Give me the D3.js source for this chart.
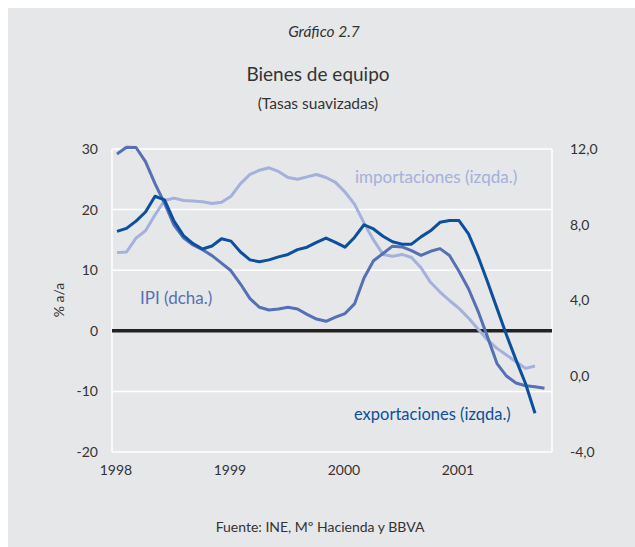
<!DOCTYPE html>
<html>
<head>
<meta charset="utf-8">
<script src="https://cdn.jsdelivr.net/npm/d3@7"></script>
<style>
  body { margin: 0; background: #fff; }
  text { font-family: Lato, "Open Sans", sans-serif; fill: #333; }
</style>
</head>
<body>
<div id="chart"></div>
<script>
// monthly, Jan 1998 onwards
var startYear = 1998;
var yearLabels = ["1998", "1999", "2000", "2001"];
var leftTicks = [30, 20, 10, 0, -10, -20];
var rightTicks = [12, 8, 4, 0, -4];

// exportaciones (izqda.)
var exportaciones = [16.4, 16.9, 18.1, 19.6, 22.2, 21.6, 18.1, 15.7, 14.4, 13.5,
  14.0, 15.2, 14.8, 13.0, 11.7, 11.4, 11.7, 12.2, 12.6, 13.4,
  13.8, 14.6, 15.3, 14.6, 13.8, 15.4, 17.5, 16.8, 15.6, 14.7,
  14.3, 14.3, 15.5, 16.5, 17.9, 18.2, 18.2, 16.0, 12.3, 8.1,
  3.7, -0.7, -4.8, -8.7, -13.6];

// importaciones (izqda.)
var importaciones = [12.9, 13.0, 15.3, 16.5, 19.1, 21.5, 21.9, 21.5, 21.4, 21.3,
  21.0, 21.2, 22.2, 24.3, 25.8, 26.5, 26.9, 26.3, 25.3, 25.0,
  25.4, 25.8, 25.3, 24.5, 22.9, 20.9, 17.8, 15.0, 12.6, 12.3,
  12.6, 12.1, 10.4, 8.0, 6.4, 5.0, 3.7, 2.1, 0.3, -1.5,
  -2.9, -4.0, -5.1, -6.2, -5.8];

// IPI (dcha.)
var ipi = [11.74, 12.09, 12.08, 11.33, 10.17, 9.14, 7.98, 7.31, 6.93, 6.68,
  6.37, 5.97, 5.57, 4.87, 4.10, 3.64, 3.50, 3.55, 3.64, 3.55,
  3.27, 3.02, 2.90, 3.12, 3.31, 3.82, 5.19, 6.10, 6.48, 6.87,
  6.83, 6.63, 6.38, 6.60, 6.74, 6.38, 5.54, 4.62, 3.44, 2.08,
  0.67, 0.01, -0.36, -0.50, -0.55, -0.63];

var svgWidth = 635;
var svgHeight = 547;

var plot = { left: 112, right: 552, top: 149, bottom: 452 };

var svg = d3.select("#chart")
  .append("svg")
  .attr("width", svgWidth)
  .attr("height", svgHeight);

// grey card
svg.append("rect")
  .attr("x", 8).attr("y", 8)
  .attr("width", svgWidth - 8).attr("height", svgHeight - 8)
  .attr("fill", "#e6e7e9");

// scales
var x = d3.scaleLinear()
  .domain([0, 45])
  .range([117, 117 + 45 * 9.5]);

var yLeft = d3.scaleLinear()
  .domain([-20, 30])
  .range([plot.bottom, plot.top]);

var yRight = d3.scaleLinear()
  .domain([-4, 12])
  .range([plot.bottom, plot.top]);

// gridlines
svg.append("g")
  .selectAll("line")
  .data(leftTicks.filter(d => d !== 0))
  .enter()
  .append("line")
  .attr("x1", plot.left).attr("x2", plot.right)
  .attr("y1", d => yLeft(d)).attr("y2", d => yLeft(d))
  .attr("stroke", "#fff")
  .attr("stroke-width", 1.5);

// frame sides
svg.append("line")
  .attr("x1", plot.left).attr("x2", plot.left)
  .attr("y1", plot.top).attr("y2", plot.bottom)
  .attr("stroke", "#fff").attr("stroke-width", 1.5);
svg.append("line")
  .attr("x1", plot.right).attr("x2", plot.right)
  .attr("y1", plot.top).attr("y2", plot.bottom)
  .attr("stroke", "#fff").attr("stroke-width", 1.5);

// zero line
svg.append("line")
  .attr("x1", plot.left).attr("x2", plot.right)
  .attr("y1", yLeft(0)).attr("y2", yLeft(0))
  .attr("stroke", "#222")
  .attr("stroke-width", 3.5);

// series
var lineLeft = d3.line()
  .x((d, i) => x(i))
  .y(d => yLeft(d));

var lineRight = d3.line()
  .x((d, i) => x(i))
  .y(d => yRight(d));

svg.append("path")
  .datum(importaciones)
  .attr("d", lineLeft)
  .attr("fill", "none")
  .attr("stroke", "#a3b1db")
  .attr("stroke-width", 3)
  .attr("stroke-linejoin", "round");

svg.append("path")
  .datum(ipi)
  .attr("d", lineRight)
  .attr("fill", "none")
  .attr("stroke", "#5670b6")
  .attr("stroke-width", 3)
  .attr("stroke-linejoin", "round");

svg.append("path")
  .datum(exportaciones)
  .attr("d", lineLeft)
  .attr("fill", "none")
  .attr("stroke", "#0b4f9d")
  .attr("stroke-width", 3)
  .attr("stroke-linejoin", "round");

// left axis labels
svg.append("g")
  .selectAll("text")
  .data(leftTicks)
  .enter()
  .append("text")
  .attr("x", 98)
  .attr("y", d => yLeft(d))
  .attr("dy", "0.35em")
  .attr("text-anchor", "end")
  .attr("font-size", 14)
  .text(d => d === 0 ? "0" : (d < 0 ? "-" + Math.abs(d) : d));

// right axis labels
svg.append("g")
  .selectAll("text")
  .data(rightTicks)
  .enter()
  .append("text")
  .attr("x", 570)
  .attr("y", d => yRight(d))
  .attr("dy", "0.35em")
  .attr("font-size", 14)
  .text(d => (d < 0 ? "-" : "") + Math.abs(d).toFixed(1).replace(".", ","));

// year labels
svg.append("g")
  .selectAll("text")
  .data(yearLabels)
  .enter()
  .append("text")
  .attr("x", (d, i) => x(i * 12) - 1)
  .attr("y", 475)
  .attr("text-anchor", "middle")
  .attr("font-size", 14)
  .text(d => d);

// y title
svg.append("text")
  .attr("transform", "translate(64, 300) rotate(-90)")
  .attr("text-anchor", "middle")
  .attr("font-size", 14)
  .text("% a/a");

// titles
svg.append("text")
  .attr("x", 324).attr("y", 37)
  .attr("text-anchor", "middle")
  .attr("font-size", 15.5)
  .attr("font-style", "italic")
  .text("Gráfico 2.7");

svg.append("text")
  .attr("x", 318).attr("y", 81)
  .attr("text-anchor", "middle")
  .attr("font-size", 19)
  .text("Bienes de equipo");

svg.append("text")
  .attr("x", 318).attr("y", 109)
  .attr("text-anchor", "middle")
  .attr("font-size", 15.5)
  .text("(Tasas suavizadas)");

// series labels
svg.append("text")
  .attr("x", 355).attr("y", 183)
  .attr("font-size", 17)
  .style("fill", "#a3b1db")
  .text("importaciones (izqda.)");

svg.append("text")
  .attr("x", 140).attr("y", 304)
  .attr("font-size", 17)
  .style("fill", "#5670b6")
  .text("IPI (dcha.)");

svg.append("text")
  .attr("x", 354).attr("y", 420)
  .attr("font-size", 16.5)
  .style("fill", "#0b4f9d")
  .text("exportaciones (izqda.)");

// source
svg.append("text")
  .attr("x", 320).attr("y", 532)
  .attr("text-anchor", "middle")
  .attr("font-size", 14)
  .text("Fuente: INE, Mº Hacienda y BBVA");
</script>
</body>
</html>
